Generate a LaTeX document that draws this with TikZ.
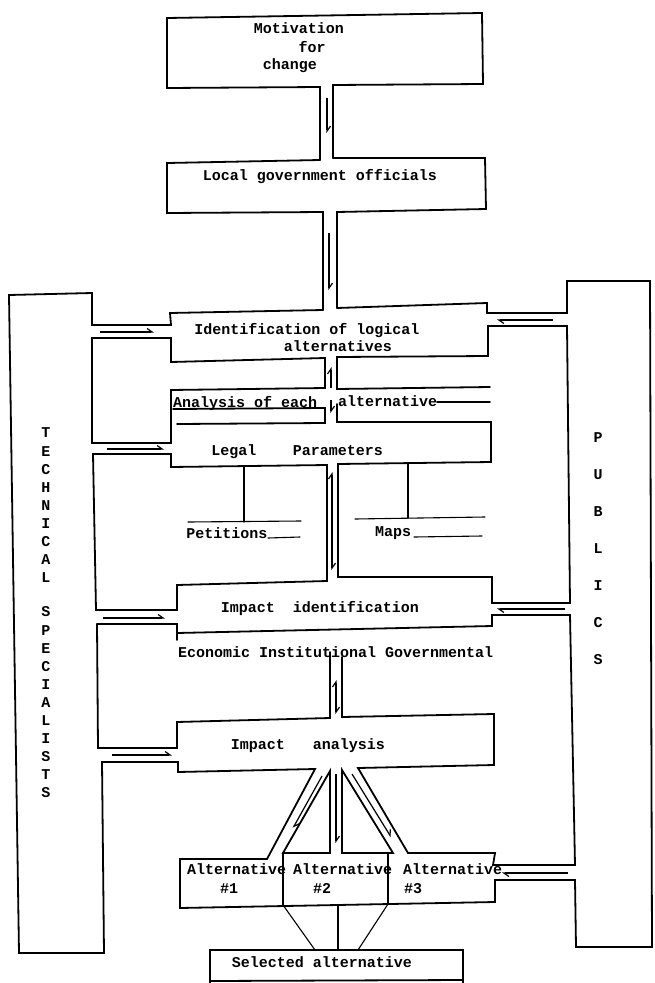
\documentclass[tikz,border=0pt]{standalone}
\usepackage{fontspec}
\setmonofont{Liberation Mono}
\usetikzlibrary{arrows.meta}

\begin{document}
\begin{tikzpicture}[x=1pt,y=-1pt,
  outline/.style={line width=1.8pt, line join=miter, line cap=round},
  guide/.style={line width=1.1pt, line cap=round},
  flow/.style={line width=1.2pt, -{Straight Barb[harpoon,length=5pt,width=7pt]}},
  flowboth/.style={line width=1.2pt, {Straight Barb[harpoon,length=5pt,width=7pt]}-{Straight Barb[harpoon,length=5pt,width=7pt]}},
  lbl/.style={font=\ttfamily\bfseries\fontsize{15}{18}\selectfont, inner sep=0pt, anchor=base},
  letter/.style={font=\ttfamily\bfseries\fontsize{15}{18}\selectfont, inner sep=0pt, anchor=center}]

\useasboundingbox (0,0) rectangle (655,983);
\fill[white] (0,0) rectangle (655,983);

% ---------- outlines ----------
% Motivation box and first pipe
\draw[outline] (320,160) -- (320,87) -- (167,88) -- (167,18) -- (482,13) -- (483,84) -- (333,85) -- (333,158);
% Local government box and second pipe
\draw[outline] (320,160) -- (167,163) -- (167,213) -- (323,212) -- (323,310);
\draw[outline] (333,158) -- (485,158) -- (486,209) -- (337,212) -- (337,308);

% technical specialists column, joined to the identification box and impact analysis box
\draw[outline] (323,310) -- (170,313) -- (171,325) -- (92,325) -- (92,293) -- (9,295)
  -- (19,953) -- (104,953) -- (102,762) -- (178,762) -- (178,772) -- (315,769)
  -- (267,859) -- (180,859) -- (180,908) -- (495,902) -- (495,880) -- (575,880)
  -- (576,947) -- (652,947) -- (650,281) -- (567,281) -- (567,313) -- (487,313)
  -- (487,303) -- (337,308);

% loop between identification and legal parameters (left)
\draw[outline] (92,338) -- (171,338) -- (171,362) -- (325,358) -- (325,388)
  -- (171,390) -- (171,443) -- (92,443) -- cycle;
% loop between legal parameters and impact identification (left)
\draw[outline] (171,454) -- (93,454) -- (96,610) -- (177,610) -- (177,585)
  -- (327,581) -- (327,465) -- (171,467) -- cycle;
% analysis row, left
\draw[outline] (173,409) -- (325,408) -- (325,423) -- (177,424);
\draw[outline] (437,402) -- (490,402);

% right side between identification and impact identification
\draw[outline] (337,404) -- (337,422) -- (491,422) -- (491,462) -- (338,464)
  -- (338,577) -- (492,577) -- (492,603) -- (570,603) -- (567,326) -- (488,326)
  -- (488,356) -- (337,357) -- (337,389) -- (490,387);

% impact identification bottom
\draw[outline] (97,624) -- (177,624) -- (177,640);
\draw[outline] (177,633) -- (492,626) -- (492,615) -- (570,615) -- (575,865)
  -- (493,865) -- (495,853) -- (408,853) -- (358,768) -- (494,765) -- (494,714)
  -- (342,717) -- (342,657);
% impact analysis top left
\draw[outline] (97,624) -- (98,748) -- (177,748) -- (177,722) -- (330,718) -- (330,652);

% pipes to the alternatives
\draw[outline] (330,771) -- (283,853) -- (330,853) -- cycle;
\draw[outline] (342,770) -- (342,853) -- (393,853) -- cycle;
% alternative dividers
\draw[outline] (283,853) -- (283,905);
\draw[outline] (388,853) -- (388,904);

% selected alternative box
\draw[outline] (210,983) -- (210,950) -- (463,950) -- (463,983);
\draw[outline] (210,981) -- (463,980);
\draw[guide] (283,905) -- (315,950);
\draw[guide] (338,905) -- (338,950);
\draw[guide] (388,904) -- (358,950);

% legal parameter branches
\draw[guide] (244,466) -- (244,522);
\draw[guide] (188,522) -- (301,521);
\draw[guide] (268,538) -- (300,537);
\draw[guide] (408,463) -- (408,518);
\draw[guide] (355,519) -- (485,517);
\draw[guide] (414,537) -- (482,536);

% ---------- flow arrows ----------
\draw[flow] (327,98) -- (327,133);
\draw[flow] (329,233) -- (329,290);
\draw[flow] (331,388) -- (331,367);
\draw[flow] (331,400) -- (331,413);
\draw[flowboth] (332,472) -- (332,570);
\draw[flowboth] (336,680) -- (336,714);
\draw[flow] (322,776) -- (293,828);
\draw[flow] (336,774) -- (336,843);
\draw[flow] (352,774) -- (391,837);
% from the technical specialists
\draw[flow] (100,332) -- (154,332);
\draw[flow] (107,449) -- (164,449);
\draw[flow] (103,618) -- (165,618);
\draw[flow] (112,755) -- (172,755);
% from the publics
\draw[flow] (553,320) -- (497,320);
\draw[flow] (565,609) -- (497,609);
\draw[flow] (568,873) -- (502,873);

% ---------- labels ----------
\node[lbl] (motiv) at (299,33) {Motivation};
\node[lbl] (for) at (312,52) {for};
\node[lbl] (change) at (290,69) {change};
\node[lbl] (officials) at (320,180) {Local government officials};
\node[lbl] (ident) at (307,334) {Identification of logical};
\node[lbl] (identb) at (338,351) {alternatives};
\node[lbl, anchor=base west] (analysis) at (173,407) {Analysis of each};
\node[lbl, anchor=base west] (analysisb) at (338,406) {alternative};
\node[lbl] (legal) at (234,455) {Legal};
\node[lbl] (params) at (338,455) {Parameters};
\node[lbl] (petitions) at (227,538) {Petitions};
\node[lbl] (maps) at (393,536) {Maps};
\node[lbl] (impid) at (320,612) {Impact\ \ identification};
\node[lbl, anchor=base west] (kinds) at (178,657) {Economic Institutional Governmental};
\node[lbl] (impact) at (258,749) {Impact};
\node[lbl] (impan) at (349,749) {analysis};
\node[lbl, anchor=base west] (alta) at (187,874) {Alternative};
\node[lbl, anchor=base west] (altb) at (293,874) {Alternative};
\node[lbl, anchor=base west] (altc) at (403,874) {Alternative};
\node[lbl] (num1) at (229,893) {\#1};
\node[lbl] (num2) at (322,893) {\#2};
\node[lbl] (num3) at (413,893) {\#3};
\node[lbl] (selected) at (322,967) {Selected alternative};

% vertical column titles
\foreach \ch [count=\i from 0] in {T,E,C,H,N,I,C,A,L}
  \node[letter] (tech\i) at (46,433+18.1*\i) {\ch};
\foreach \ch [count=\i from 0] in {S,P,E,C,I,A,L,I,S,T,S}
  \node[letter] (spec\i) at (46,612+18.1*\i) {\ch};
\foreach \ch [count=\i from 0] in {P,U,B,L,I,C,S}
  \node[letter] (pub\i) at (598,438+37*\i) {\ch};
\end{tikzpicture}
\end{document}
